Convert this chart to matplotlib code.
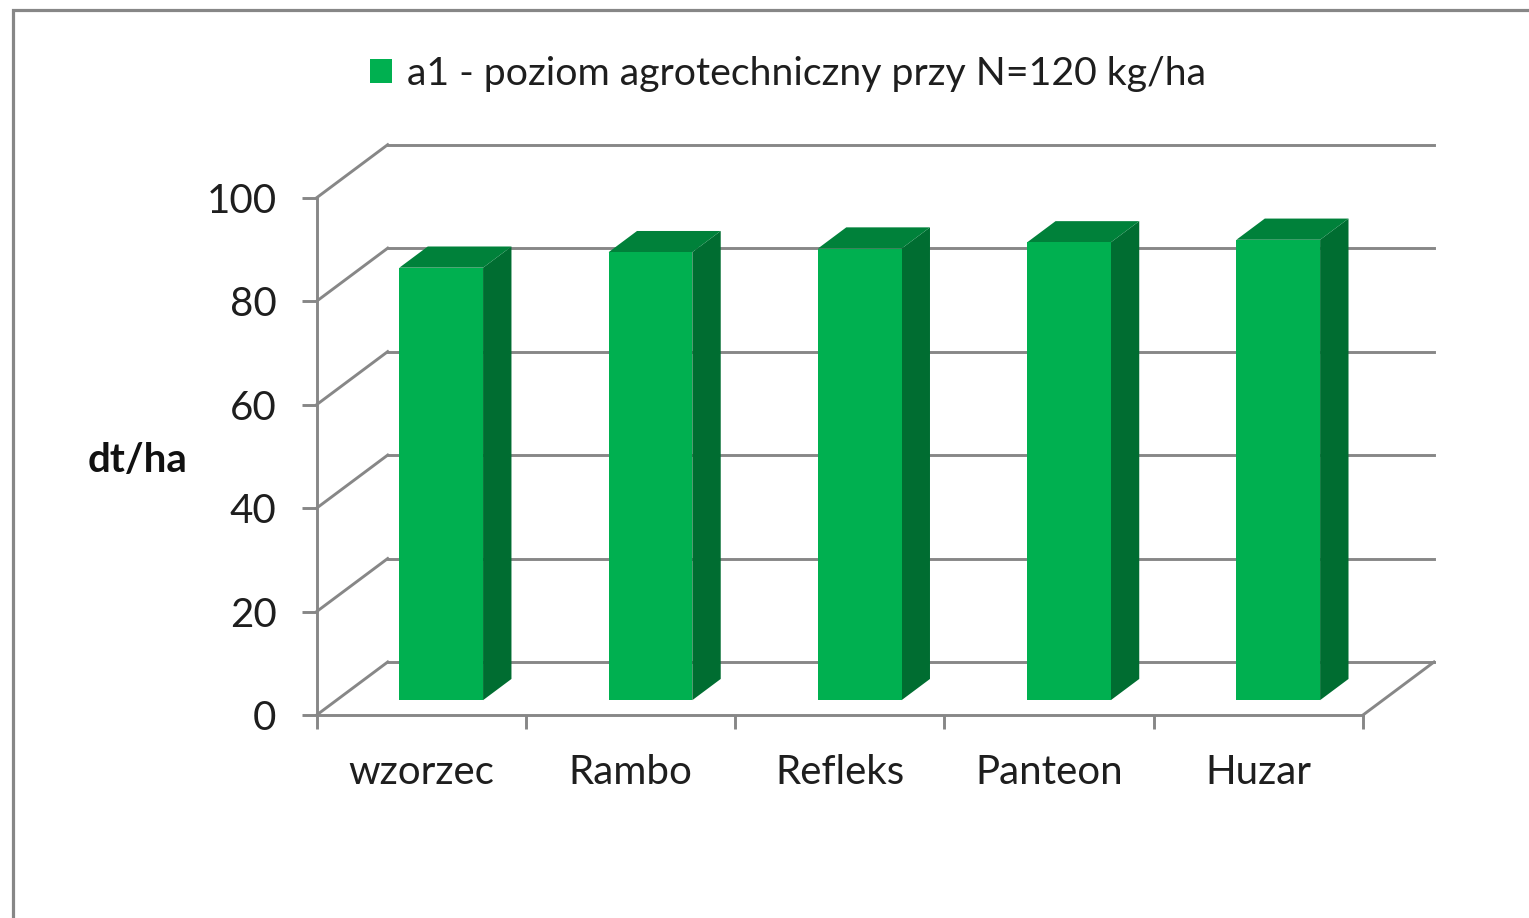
import matplotlib
matplotlib.use("Agg")
from matplotlib import pyplot as plt
from matplotlib.patches import Patch, Rectangle

# dane
odmiany = ["wzorzec", "Rambo", "Refleks", "Panteon", "Huzar"]
plon = [83.6, 86.6, 87.3, 88.5, 89.0]            # dt/ha
yticks = [0, 20, 40, 60, 80, 100]
legenda = "a1 - poziom agrotechniczny przy N=120 kg/ha"

# kolory w stylu Excela
c_front = "#00B050"
c_top = "#00813A"
c_side = "#006D31"
c_grid = "#878787"
c_txt = "#1e1e1e"

plt.rcParams["font.family"] = ["Lato", "DejaVu Sans"]
fs = 29

W, H = 1529, 918
fig = plt.figure(figsize=(W / 100, H / 100), dpi=100)

# ramka wykresu (przycięta z prawej i u dołu)
fig.patches.append(Rectangle((12.5 / W, -0.1), 1.2, 1.1 - 9.5 / H, transform=fig.transFigure,
                             fill=False, edgecolor=c_grid, linewidth=2.3))

x0, x1, y0, y1 = 316.7, 1363, 715, 197.7
ax = fig.add_axes([x0 / W, 1 - y0 / H, (x1 - x0) / W, (y0 - y1) / H])
n = len(odmiany)
ax.set_xlim(0, n)
ax.set_ylim(0, 100)
ax.patch.set_visible(False)

# przesunięcie głębi (ukośne rzutowanie)
DX = 71.0 / ((x1 - x0) / n)
DY = 53.0 / ((y0 - y1) / 100)


def proj(x, y, d):
    return x + d * DX, y + d * DY


# ściany: tylna i boczna z liniami siatki, podłoga
for t in yticks:
    bx0, by = proj(0, t, 1)
    bx1, _ = proj(n, t, 1)
    ax.plot([bx0, bx1], [by, by], color=c_grid, lw=2.1, clip_on=False, zorder=1)
    ax.plot([0, bx0], [t, by], color=c_grid, lw=2.1, clip_on=False, zorder=1)
rx, ry = proj(n, 0, 1)
ax.plot([n, rx], [0, ry], color=c_grid, lw=2.1, clip_on=False, zorder=1)

# słupki 3D
bw = 0.4
d0, d1 = 0.28, 0.68
for i, v in enumerate(plon):
    xl, xr = i + 0.5 - bw / 2, i + 0.5 + bw / 2
    front = [proj(xl, 0, d0), proj(xr, 0, d0), proj(xr, v, d0), proj(xl, v, d0)]
    side = [proj(xr, 0, d0), proj(xr, 0, d1), proj(xr, v, d1), proj(xr, v, d0)]
    top = [proj(xl, v, d0), proj(xr, v, d0), proj(xr, v, d1), proj(xl, v, d1)]
    for poly, col in ((side, c_side), (top, c_top), (front, c_front)):
        xs, ys = zip(*poly)
        ax.fill(xs, ys, color=col, lw=0, clip_on=False, zorder=3)

# osie
for s in ("top", "right"):
    ax.spines[s].set_visible(False)
for s in ("left", "bottom"):
    ax.spines[s].set_color(c_grid)
    ax.spines[s].set_linewidth(2.1)
    ax.spines[s].set_zorder(2)

ax.set_yticks(yticks)
ax.set_yticklabels([str(t) for t in yticks], fontsize=fs, color=c_txt)
ax.tick_params(axis="y", direction="out", length=11, width=2.1, color=c_grid, pad=18)

ax.set_xticks(range(n + 1))
ax.set_xticklabels([])
ax.tick_params(axis="x", which="major", direction="out", length=10, width=2.1, color=c_grid)
ax.set_xticks([i + 0.5 for i in range(n)], minor=True)
ax.set_xticklabels(odmiany, minor=True, fontsize=fs, color=c_txt)
ax.tick_params(axis="x", which="minor", length=0, pad=28)

ax.set_ylabel("dt/ha", rotation=0, fontsize=fs, fontweight="bold", color="#111111",
              ha="center", va="center")
ax.yaxis.set_label_coords((138 - x0) / (x1 - x0), (y0 - 460) / (y0 - y1))

fig.legend(handles=[Patch(facecolor=c_front, edgecolor="none", label=legenda)],
           loc="center", bbox_to_anchor=(788 / W, 1 - 74 / H), frameon=False,
           fontsize=28.3, handlelength=0.56, handleheight=0.56, handletextpad=0.36,
           labelcolor=c_txt)

fig.savefig("out.png", dpi=100, facecolor="white")
